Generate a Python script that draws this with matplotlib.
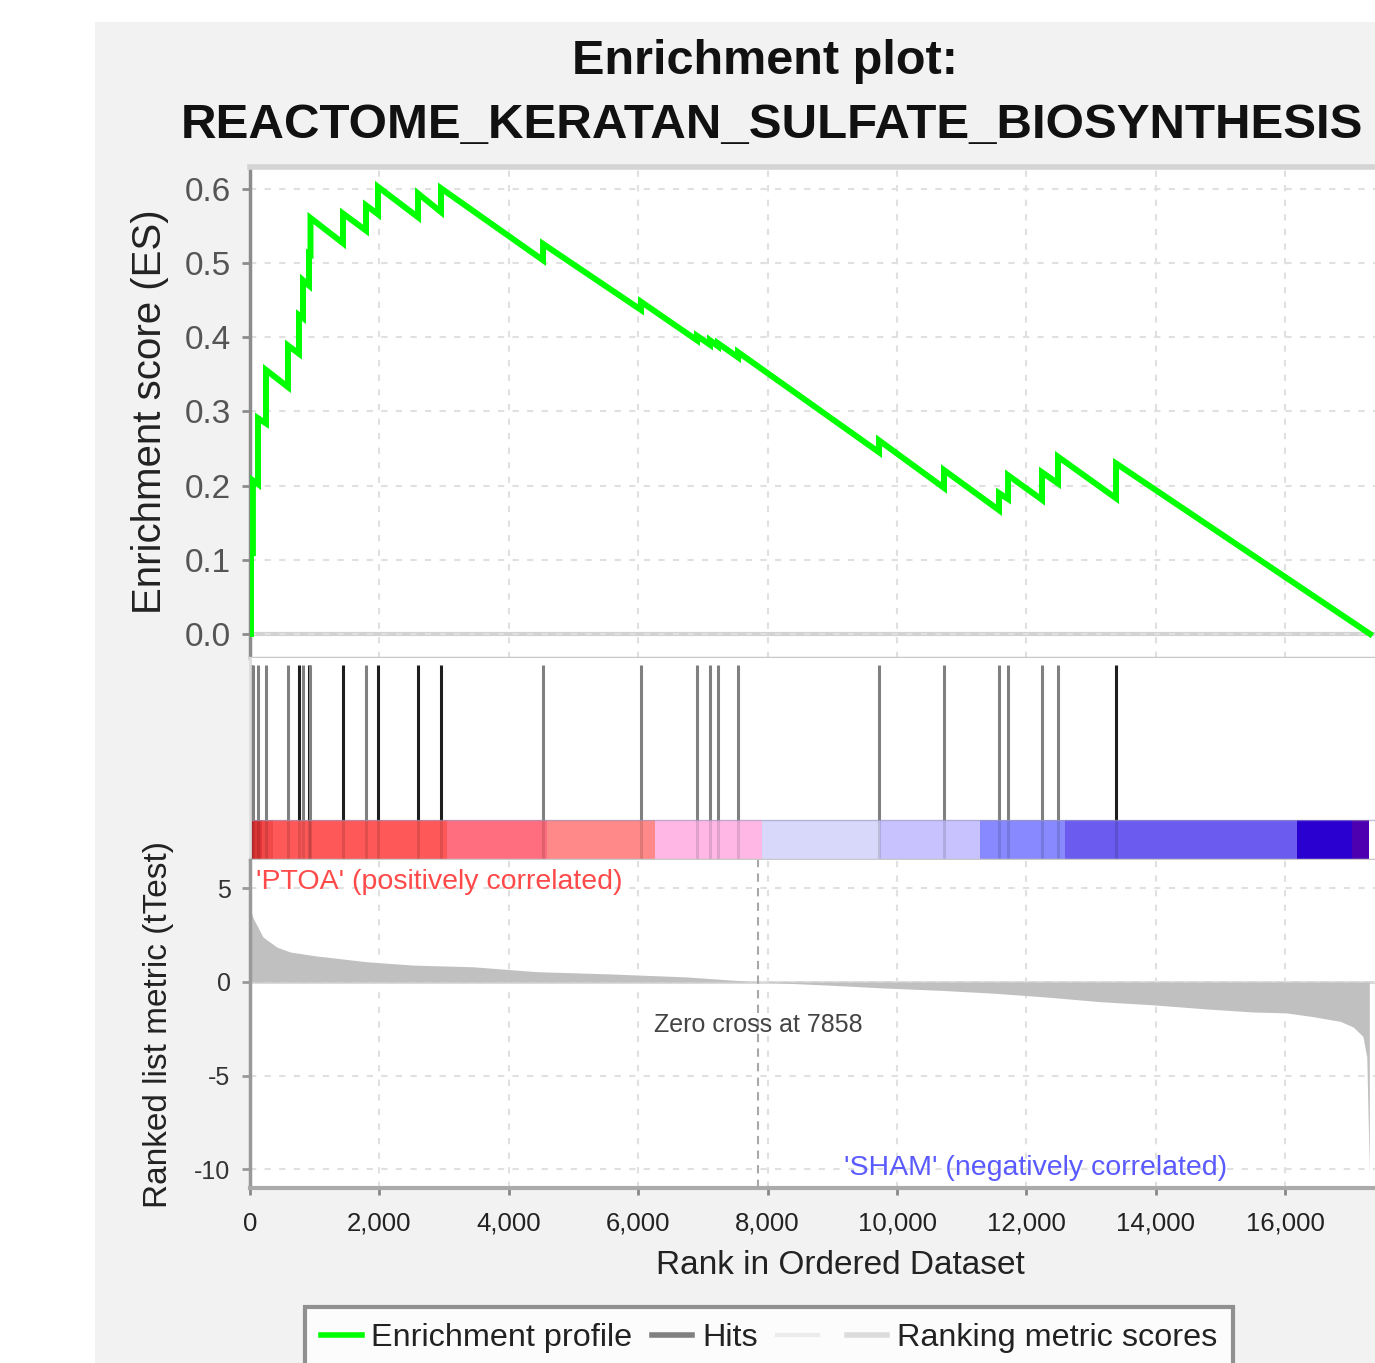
import numpy as np
import matplotlib.pyplot as plt
from matplotlib.patches import Rectangle
from matplotlib.lines import Line2D

plt.rcParams['font.family'] = ['Liberation Sans', 'DejaVu Sans']
plt.rcParams['axes.unicode_minus'] = False

# ---- data ----
n_genes = 17310
zero_cross = 7858
gene_set = 'REACTOME_KERATAN_SULFATE_BIOSYNTHESIS'

# hit positions in the ranked list, with running ES just before / after each hit
hit_ranks = [15, 45, 124, 247, 587, 757, 819, 912, 935, 1437, 1793, 1978, 2597, 2952,
             4529, 6043, 6909, 7110, 7233, 7543, 9722, 10726, 11576, 11716, 12241,
             12488, 13385]
es_before = [0.000, 0.109, 0.202, 0.284, 0.333, 0.378, 0.426, 0.470, 0.512, 0.527,
             0.544, 0.566, 0.562, 0.569, 0.504, 0.437, 0.396, 0.390, 0.388, 0.373,
             0.245, 0.197, 0.167, 0.182, 0.181, 0.203, 0.183]
es_after = [0.109, 0.207, 0.291, 0.356, 0.389, 0.430, 0.477, 0.513, 0.561, 0.567,
            0.578, 0.603, 0.594, 0.601, 0.526, 0.448, 0.402, 0.396, 0.392, 0.380,
            0.261, 0.221, 0.190, 0.214, 0.218, 0.239, 0.230]
hit_dark = [1, 0, 0, 0, 0, 1, 0, 1, 0, 1, 0, 1, 1, 1, 0, 0, 0, 0, 0, 0,
            0, 0, 0, 0, 0, 0, 1]

# ranked list metric (tTest)
metric_ranks = [0, 10, 50, 200, 415, 620, 1000, 1800, 2520, 3450, 4430, 5560, 6750,
                7858, 8900, 9800, 10700, 11500, 12300, 13140, 13960, 14790, 15500,
                16020, 16430, 16850, 17050, 17200, 17260, 17300]
metric_vals = [4.7, 3.8, 3.4, 2.4, 1.86, 1.6, 1.4, 1.08, 0.9, 0.81, 0.55, 0.43, 0.27,
               0.0, -0.16, -0.32, -0.45, -0.6, -0.8, -1.05, -1.22, -1.44, -1.6,
               -1.65, -1.85, -2.1, -2.4, -2.9, -4.0, -10.2]

# heat band under the hits
band_starts = [0, 31, 185, 355, 3045, 4590, 6260, 7913, 9737, 11283, 12597, 16182, 17032]
band_ends = band_starts[1:] + [17300]
band_colors = ['#b81010', '#e03535', '#f24848', '#ff5858', '#ff6e7e', '#ff8888',
               '#ffb8e6', '#d8d8fa', '#c8c2ff', '#8888ff', '#6b5bee', '#2a00d0',
               '#4c00b0']

x_ticks = [0, 2000, 4000, 6000, 8000, 10000, 12000, 14000, 16000]
x_ticklabels = ['0', '2,000', '4,000', '6,000', '8,000', '10,000', '12,000',
                '14,000', '16,000']
es_ticks = [0.0, 0.1, 0.2, 0.3, 0.4, 0.5, 0.6]
m_ticks = [5, 0, -5, -10]

# ---- figure layout in pixels ----
W, H = 1375, 1363
fig = plt.figure(figsize=(W / 100, H / 100), dpi=100)
fig.patch.set_facecolor('white')
fig.add_artist(Rectangle((95 / W, 0), 1 - 95 / W, 1 - 22 / H, transform=fig.transFigure,
                         facecolor='#f2f2f2', edgecolor='none', zorder=-10))


def box(x0, y0, x1, y1):
    return [x0 / W, 1 - y1 / H, (x1 - x0) / W, (y1 - y0) / H]


xmax = n_genes * 1125 / 1120
grid_kw = dict(color='#e0e0e0', linestyle=(0, (3, 4)), linewidth=1.5)

# enrichment score panel
ax = fig.add_axes(box(250, 167, 1375, 658))
es_x, es_y = [0], [0.0]
for r, b, a in zip(hit_ranks, es_before, es_after):
    es_x += [r, r]
    es_y += [b, a]
es_x.append(n_genes)
es_y.append(0.0)
ax.axhline(0, color='#d2d2d2', lw=3, zorder=1)
ax.plot(es_x, es_y, color='#00ff00', lw=4.3, zorder=3, solid_joinstyle='miter')
ax.set_xlim(0, xmax)
ax.set_ylim(-0.0324, 0.6297)
ax.set_xticks(x_ticks)
ax.set_yticks(es_ticks)
ax.set_yticklabels([f'{t:.1f}' for t in es_ticks])
ax.grid(True, **grid_kw)
ax.tick_params(axis='x', length=0, labelbottom=False)
ax.tick_params(axis='y', length=6, width=2, color='#8c8c8c', labelsize=24,
               labelcolor='#555555', pad=8)
ax.spines['right'].set_visible(False)
ax.spines['top'].set_color('#d4d4d4')
ax.spines['top'].set_linewidth(4)
ax.spines['left'].set_color('#8c8c8c')
ax.spines['left'].set_linewidth(2.5)
ax.spines['bottom'].set_color('#c8c8c8')
ax.spines['bottom'].set_linewidth(2.5)

# hits + heat band panel
axh = fig.add_axes(box(250, 658, 1375, 860))
band_top = 40 / 202
axh.bar(band_starts, band_top, width=np.array(band_ends) - np.array(band_starts),
        align='edge', color=band_colors, linewidth=0)
hit_cols = ['#1e1e1e' if d else '#808080' for d in hit_dark]
axh.vlines(hit_ranks, band_top, 0.965, colors=hit_cols, lw=2.2)
axh.vlines(hit_ranks, 0, band_top, colors='k', alpha=0.12, lw=2.2)
axh.axhline(band_top, color='#9a9ac0', lw=1, alpha=0.6)
axh.set_xlim(0, xmax)
axh.set_ylim(0, 1)
axh.set_xticks([])
axh.set_yticks([])
for s in ['top', 'right']:
    axh.spines[s].set_visible(False)
axh.spines['left'].set_color('#dddddd')
axh.spines['left'].set_linewidth(2)
axh.spines['bottom'].set_color('#c8c8c8')
axh.spines['bottom'].set_linewidth(2.5)

# ranked list metric panel
axm = fig.add_axes(box(250, 860, 1375, 1188))
axm.fill_between(metric_ranks, metric_vals, 0, color='#c0c0c0', lw=0, zorder=2)
axm.axhline(0, color='#d6d6d6', lw=2, zorder=1)
axm.axvline(zero_cross, color='#a8a8a8', ls=(0, (4, 3)), lw=1.5, zorder=3)
axm.set_xlim(0, xmax)
axm.set_ylim(-10.99, 6.507)
axm.set_xticks(x_ticks)
axm.set_xticklabels(x_ticklabels)
axm.set_yticks(m_ticks)
axm.set_yticklabels([str(t) for t in m_ticks])
axm.grid(True, **grid_kw)
axm.tick_params(axis='x', length=5, width=2, color='#888888', labelsize=18.5,
                labelcolor='#222222', pad=12)
axm.tick_params(axis='y', length=6, width=2, color='#999999', labelsize=18,
                labelcolor='#333333', pad=8)
for s in ['top', 'right']:
    axm.spines[s].set_visible(False)
axm.spines['left'].set_color('#999999')
axm.spines['left'].set_linewidth(2.5)
axm.spines['bottom'].set_color('#aaaaaa')
axm.spines['bottom'].set_linewidth(3)

axm.text(0.005, 0.973, "'PTOA' (positively correlated)", transform=axm.transAxes,
         ha='left', va='top', color='#ff4a4a', fontsize=20.5)
axm.text(0.8684, 0.061, "'SHAM' (negatively correlated)", transform=axm.transAxes,
         ha='right', va='center', color='#5a5aff', fontsize=20.5)
axm.text(zero_cross, -2.29, f'Zero cross at {zero_cross}', ha='center', va='center',
         color='#444444', fontsize=18)

# titles and axis labels
fig.text(765 / W, 1 - 61 / H, 'Enrichment plot:', ha='center', va='center',
         fontsize=35, fontweight='bold', color='#111111')
fig.text(772 / W, 1 - 126 / H, gene_set, ha='center', va='center',
         fontsize=35.5, fontweight='bold', color='#111111')
fig.text(150 / W, 1 - 412 / H, 'Enrichment score (ES)', rotation=90, ha='center',
         va='center', fontsize=29, color='#222222')
fig.text(158 / W, 1 - 1024 / H, 'Ranked list metric (tTest)', rotation=90, ha='center',
         va='center', fontsize=24, color='#222222')
fig.text(840 / W, 1 - 1265 / H, 'Rank in Ordered Dataset', ha='center', va='center',
         fontsize=24, color='#222222')

# legend
handles = [Line2D([], [], color='#00ff00', lw=4),
           Line2D([], [], color='#808080', lw=4),
           Line2D([], [], color='#ececec', lw=3),
           Line2D([], [], color='#dcdcdc', lw=4)]
labels = ['Enrichment profile', 'Hits', '', 'Ranking metric scores']
leg = fig.legend(handles, labels, ncol=4, loc='upper left',
                 bbox_to_anchor=(305 / W, 1 - 1307 / H), frameon=True, fancybox=False,
                 fontsize=23.3, handlelength=1.25, handletextpad=0.3, columnspacing=0.6,
                 borderpad=0.5, borderaxespad=0)
leg.get_frame().set_edgecolor('#777777')
leg.get_frame().set_linewidth(3)
for t in leg.get_texts():
    t.set_color('#222222')

fig.savefig('out.png', dpi=100)
